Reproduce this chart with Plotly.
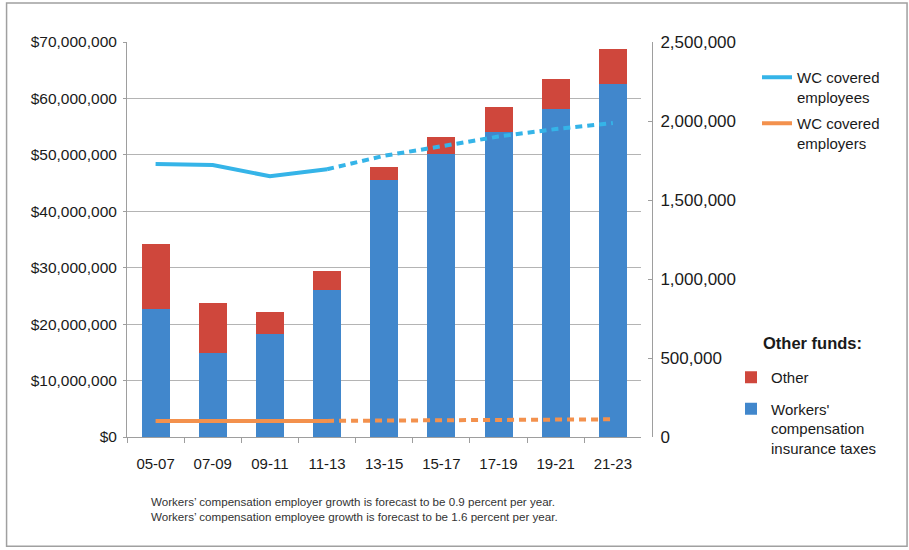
import plotly.graph_objects as go

# Biennium labels
periods = ["05-07", "07-09", "09-11", "11-13", "13-15", "15-17", "17-19", "19-21", "21-23"]

# Funding sources (dollars)
wc_taxes = [22.6e6, 14.9e6, 18.3e6, 26.0e6, 45.6e6, 50.2e6, 54.1e6, 58.1e6, 62.6e6]
other_funds = [11.6e6, 8.9e6, 3.8e6, 3.4e6, 2.2e6, 2.9e6, 4.3e6, 5.3e6, 6.2e6]

# Covered employees / employers (actuals through 11-13, forecast afterwards)
employees = [1728000, 1722000, 1650000, 1695000, 1780000, 1840000, 1902000, 1949000, 1987000]
employers = [102000, 101500, 101000, 102000, 104000, 106000, 108000, 110000, 112000]
last_actual = 3  # index of 11-13

footnotes = [
    "Workers\u2019 compensation employer growth is forecast to be 0.9 percent per year.",
    "Workers\u2019 compensation employee growth is forecast to be 1.6 percent per year.",
]

W, H = 909, 550
ML, MT = 127, 42
PLOT_R = 641.7          # right edge of bar area
AXIS2_X = 652.3         # offset right axis line
PLOT_B = 437.5
MR = W - AXIS2_X
MB = H - PLOT_B
PW = W - ML - MR
PH = H - MT - MB


def px_x(px):
    return (px - ML) / PW


def px_y(py):
    return (H - MB - py) / PH


BLUE_BAR = "#4187cc"
RED_BAR = "#cf473c"
BLUE_LINE = "#35b4e8"
ORANGE_LINE = "#f3914d"
GRID = "#b4b4b4"
AXIS = "#9e9e9e"
FONT = "Liberation Sans, Arial, sans-serif"


def split(vals, solid):
    if solid:
        return [v if i <= last_actual else None for i, v in enumerate(vals)]
    return [v if i >= last_actual else None for i, v in enumerate(vals)]


fig = go.Figure()

fig.add_trace(go.Bar(
    x=periods, y=wc_taxes, name="Workers'<br>compensation<br>insurance taxes",
    marker=dict(color=BLUE_BAR, line=dict(width=0)), legend="legend2",
    legendgroup="wc", legendrank=2, yaxis="y"))
fig.add_trace(go.Bar(
    x=periods, y=other_funds, name="Other",
    marker=dict(color=RED_BAR, line=dict(width=0)), legend="legend2",
    legendgroup="other", legendrank=1, yaxis="y"))

for vals, color, name in [(employees, BLUE_LINE, "WC covered<br>employees"),
                          (employers, ORANGE_LINE, "WC covered<br>employers")]:
    fig.add_trace(go.Scatter(
        x=periods, y=split(vals, True), mode="lines", name=name,
        line=dict(color=color, width=4), yaxis="y2", legend="legend",
        legendgroup=name, connectgaps=False))
    fig.add_trace(go.Scatter(
        x=periods, y=split(vals, False), mode="lines", name=name,
        line=dict(color=color, width=4, dash="7px,5px"), yaxis="y2",
        legend="legend", legendgroup=name, showlegend=False, connectgaps=False))

fig.update_layout(
    width=W, height=H,
    margin=dict(l=ML, r=MR, t=MT, b=MB, pad=0, autoexpand=False),
    paper_bgcolor="white", plot_bgcolor="white",
    font=dict(family=FONT, size=15, color="#1a1a1a"),
    barmode="stack", bargap=0.51,
    xaxis=dict(
        domain=[0, px_x(PLOT_R)], type="category", tickson="boundaries",
        ticks="outside", ticklen=5, tickcolor=AXIS, showline=True,
        linecolor=AXIS, linewidth=1, showgrid=False,
        tickfont=dict(size=15, color="#1a1a1a"), ticklabelstandoff=13),
    yaxis=dict(
        range=[0, 70e6], dtick=10e6, tickprefix="$", tickformat=",d",
        showgrid=True, gridcolor=GRID, gridwidth=1, showline=True,
        linecolor=AXIS, linewidth=1, ticks="outside", ticklen=3,
        tickcolor=AXIS, zeroline=False, ticklabelstandoff=3,
        tickfont=dict(size=15.5, color="#1a1a1a")),
    yaxis2=dict(
        range=[0, 2.5e6], dtick=500000, tickformat=",d", overlaying="y",
        side="right", anchor="free", position=1, showgrid=False,
        showline=True, linecolor=AXIS, linewidth=1, ticks="inside",
        ticklen=4, tickcolor=AXIS, zeroline=False, ticklabelstandoff=4,
        tickfont=dict(size=17, color="#1a1a1a")),
    legend=dict(
        xref="container", yref="container", x=757 / W, y=1 - 61 / H,
        xanchor="left", yanchor="top", traceorder="grouped", valign="top",
        font=dict(size=15, color="#1a1a1a"), bgcolor="rgba(0,0,0,0)",
        tracegroupgap=4),
    legend2=dict(
        xref="container", yref="container", x=731 / W, y=1 - 361 / H,
        xanchor="left", yanchor="top", traceorder="grouped",
        valign="top", font=dict(size=15, color="#1a1a1a"),
        bgcolor="rgba(0,0,0,0)", tracegroupgap=9),
    showlegend=True,
)

# heading over the funds legend
fig.add_annotation(
    x=px_x(761), y=px_y(343), xref="paper", yref="paper", xanchor="left",
    yanchor="middle", text="<b>Other funds:</b>", showarrow=False,
    font=dict(family=FONT, size=16.5, color="#1a1a1a"))

for i, line in enumerate(footnotes):
    fig.add_annotation(
        x=px_x(149), y=px_y(502 + 15 * i), xref="paper", yref="paper",
        xanchor="left", yanchor="middle", text=line, showarrow=False,
        font=dict(family=FONT, size=11.6, color="#333333"))

# outer frame
fig.add_shape(type="rect", xref="paper", yref="paper",
              x0=px_x(6.5), x1=px_x(907.5), y0=px_y(547), y1=px_y(3),
              line=dict(color="#a0a0a0", width=1.5), layer="below")

fig.write_html("out.html")
